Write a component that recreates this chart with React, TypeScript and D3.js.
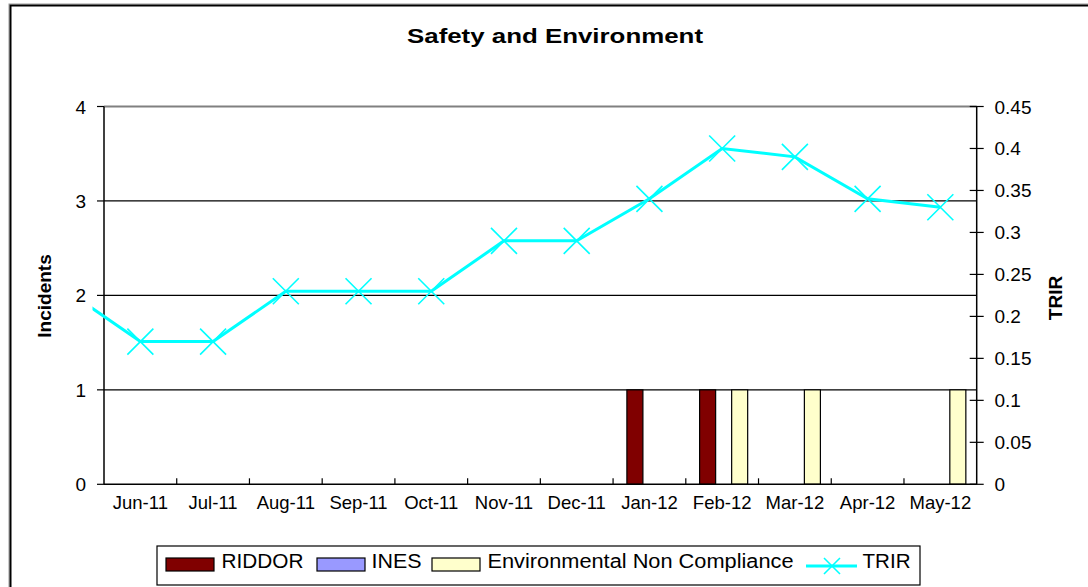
import React from 'react';
import * as d3 from 'd3';

const months = ['Jun-11', 'Jul-11', 'Aug-11', 'Sep-11', 'Oct-11', 'Nov-11', 'Dec-11', 'Jan-12', 'Feb-12', 'Mar-12', 'Apr-12', 'May-12'];
const riddor = [0, 0, 0, 0, 0, 0, 0, 1, 1, 0, 0, 0];
const ines = [0, 0, 0, 0, 0, 0, 0, 0, 0, 0, 0, 0];
const envNonCompliance = [0, 0, 0, 0, 0, 0, 0, 0, 1, 1, 0, 1];
const trir = [0.17, 0.17, 0.23, 0.23, 0.23, 0.29, 0.29, 0.34, 0.40, 0.39, 0.34, 0.33];
const prevTrir = 0.23; // May-11, partly visible at the left edge
const incidentTicks = [0, 1, 2, 3, 4];
const trirTicks = [0, 0.05, 0.1, 0.15, 0.2, 0.25, 0.3, 0.35, 0.4, 0.45];
const seriesNames = ['RIDDOR', 'INES', 'Environmental Non Compliance'];
const seriesColors = ['#800000', '#9999FF', '#FFFFCC'];
const lineColor = '#00FFFF';

const FONT = 'Arial, "Liberation Sans", sans-serif';

export default function App() {
  const W = 1088, H = 587;
  const left = 104, right = 976.7, top = 106.5, bottom = 484.3;

  const x = d3.scaleBand<string>().domain(months).range([left, right]).padding(0);
  const inner = d3.scaleBand<string>().domain(seriesNames).range([0, x.bandwidth()]).paddingInner(0).paddingOuter(0.77).align(0.56);
  const yL = d3.scaleLinear().domain([0, 4]).range([bottom, top]);
  const yR = d3.scaleLinear().domain([0, 0.45]).range([bottom, top]);

  const seriesData = [riddor, ines, envNonCompliance];

  const pts: [number, number][] = trir.map((v, i) => [x(months[i])! + x.bandwidth() / 2, yR(v)]);
  const prevPt: [number, number] = [x(months[0])! + x.bandwidth() / 2 - x.step(), yR(prevTrir)];
  const line = d3.line();
  const linePath = line([prevPt, ...pts])!;

  const mk = (cx: number, cy: number, s: number, key: string) => (
    <path key={key} d={`M${cx - s},${cy - s}L${cx + s},${cy + s}M${cx - s},${cy + s}L${cx + s},${cy - s}`} stroke={lineColor} strokeWidth={1.6} fill="none" />
  );

  const tickFmt = (v: number) => String(+v.toFixed(2));

  return (
    <svg width={W} height={H} style={{ position: 'absolute', left: 0, top: 0, background: '#fff' }} fontFamily={FONT}>
      <defs>
        <clipPath id="lineClip">
          <rect x={92.5} y={0} width={W} height={H} />
        </clipPath>
      </defs>
      {/* frame */}
      <rect x={9} y={4} width={1100} height={620} fill="none" stroke="#999" strokeWidth={1} />
      <rect x={10.5} y={5.5} width={1100} height={620} fill="none" stroke="#000" strokeWidth={2} />

      <text x={555} y={43} textAnchor="middle" fontSize={21} fontWeight="bold" textLength={296} lengthAdjust="spacingAndGlyphs">Safety and Environment</text>

      {/* gridlines */}
      {incidentTicks.filter(t => t > 0 && t < 4).map(t => (
        <line key={'g' + t} x1={left} x2={right} y1={yL(t)} y2={yL(t)} stroke="#000" strokeWidth={1.2} />
      ))}
      <line x1={left} x2={right} y1={yL(4)} y2={yL(4)} stroke="#808080" strokeWidth={2} />

      {/* bars */}
      {months.map((m, i) => seriesNames.map((s, j) => {
        const v = seriesData[j][i];
        if (!v) return null;
        return <rect key={m + s} x={x(m)! + inner(s)!} y={yL(v)} width={inner.bandwidth()} height={yL(0) - yL(v)} fill={seriesColors[j]} stroke="#000" strokeWidth={1.2} />;
      }))}

      {/* axes */}
      <line x1={left} x2={left} y1={top} y2={bottom} stroke="#000" strokeWidth={1.5} />
      <line x1={right} x2={right} y1={top} y2={bottom} stroke="#000" strokeWidth={1.5} />
      <line x1={left} x2={right} y1={bottom} y2={bottom} stroke="#000" strokeWidth={1.5} />
      {incidentTicks.map(t => (
        <g key={'l' + t}>
          <line x1={left - 7} x2={left} y1={yL(t)} y2={yL(t)} stroke="#000" strokeWidth={1.2} />
          <text x={86} y={yL(t) + 7} textAnchor="end" fontSize={19}>{t}</text>
        </g>
      ))}
      {trirTicks.map(t => (
        <g key={'r' + t}>
          <line x1={right - 7} x2={right + 7} y1={yR(t)} y2={yR(t)} stroke="#000" strokeWidth={1.2} />
          <text x={994.5} y={yR(t) + 7} textAnchor="start" fontSize={19}>{tickFmt(t)}</text>
        </g>
      ))}
      {months.map((m, i) => (
        <g key={'x' + m}>
          {i > 0 && <line x1={x(m)!} x2={x(m)!} y1={bottom - 6} y2={bottom} stroke="#000" strokeWidth={1.2} />}
          <text x={x(m)! + x.bandwidth() / 2} y={509} textAnchor="middle" fontSize={18.5}>{m}</text>
        </g>
      ))}

      <text transform={`translate(51,296) rotate(-90)`} textAnchor="middle" fontSize={19} fontWeight="bold">Incidents</text>
      <text transform={`translate(1062,298) rotate(-90)`} textAnchor="middle" fontSize={19} fontWeight="bold">TRIR</text>

      {/* TRIR line */}
      <g clipPath="url(#lineClip)">
        <path d={linePath} fill="none" stroke={lineColor} strokeWidth={3} />
      </g>
      {pts.map((p, i) => mk(p[0], p[1], 13, 'm' + i))}

      {/* legend */}
      <rect x={157} y={546} width={763} height={39} fill="#fff" stroke="#000" strokeWidth={1.2} />
      {[
        { sw: 166, tx: 221.5, len: 82 },
        { sw: 317, tx: 371.5, len: 50 },
        { sw: 432, tx: 487.5, len: 306 },
      ].map((pos, j) => (
        <g key={'lg' + j}>
          <rect x={pos.sw} y={558} width={48} height={13} fill={seriesColors[j]} stroke="#000" strokeWidth={1.2} />
          <text x={pos.tx} y={568} fontSize={20} textLength={pos.len} lengthAdjust="spacingAndGlyphs">{seriesNames[j]}</text>
        </g>
      ))}
      <line x1={806} x2={857} y1={566} y2={566} stroke={lineColor} strokeWidth={3} />
      {mk(832, 566, 8, 'lgm')}
      <text x={862.5} y={568} fontSize={20} textLength={48} lengthAdjust="spacingAndGlyphs">TRIR</text>
    </svg>
  );
}
